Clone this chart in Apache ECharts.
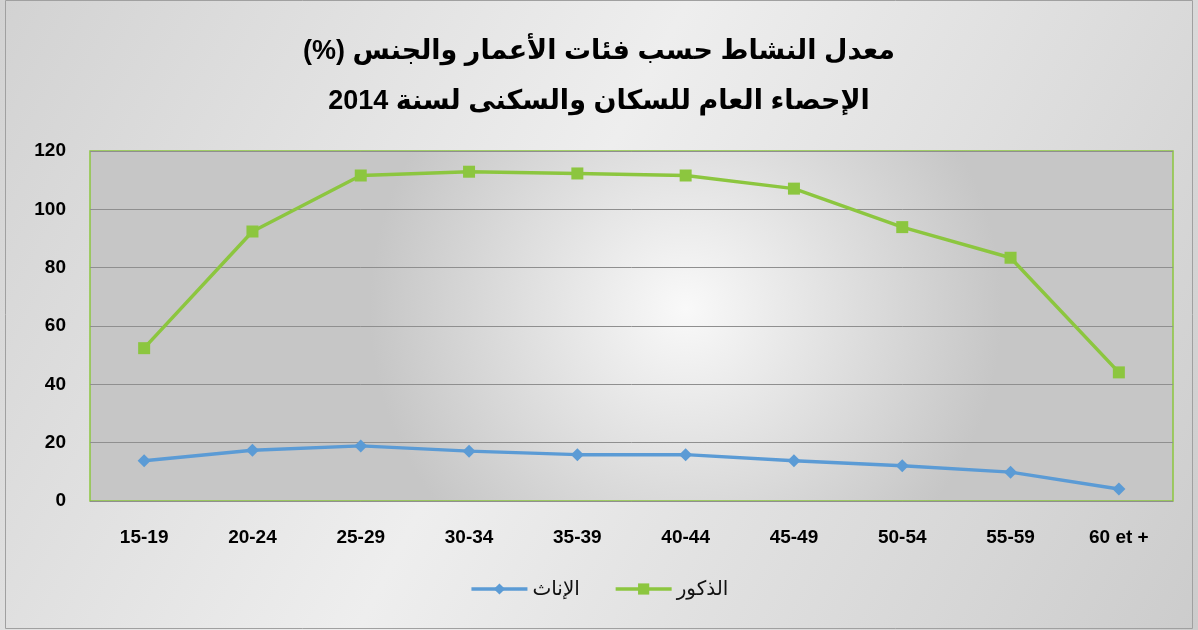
<!DOCTYPE html>
<html>
<head>
<meta charset="utf-8">
<script src="https://cdn.jsdelivr.net/npm/echarts@6/dist/echarts.min.js"></script>
<style>
  html, body { margin: 0; padding: 0; }
  #chart { width: 1198px; height: 630px; }
</style>
</head>
<body>
<div id="chart"></div>
<script>
// tranches d'âge
var categories = ["15-19", "20-24", "25-29", "30-34", "35-39", "40-44", "45-49", "50-54", "55-59", "60 et +"];
var females = [13.8, 17.4, 18.9, 17.1, 15.9, 15.9, 13.8, 12.1, 9.9, 4.1];
var males = [52.4, 92.4, 111.6, 112.9, 112.3, 111.6, 107.1, 93.9, 83.4, 44.1];
var yTicks = [0, 20, 40, 60, 80, 100, 120];

var font = "'Liberation Sans', 'DejaVu Sans', Arial, sans-serif";

var chart = echarts.init(document.getElementById("chart"));

var option = {
  backgroundColor: {
    type: "linear", x: 0, y: 0, x2: 1, y2: 1,
    colorStops: [
      { offset: 0, color: "#d2d2d2" },
      { offset: 0.45, color: "#eeeeee" },
      { offset: 1, color: "#cccccc" }
    ]
  },
  textStyle: { fontFamily: font },
  title: {
    // \u200F keeps "(%)" at the end of the right-to-left line
    text: "معدل النشاط حسب فئات الأعمار والجنس (%)\u200F\nالإحصاء العام للسكان والسكنى لسنة 2014",
    left: "center",
    top: 22,
    textStyle: {
      fontFamily: font,
      fontSize: 27,
      fontWeight: "bold",
      color: "#000",
      lineHeight: 50
    }
  },
  legend: {
    data: ["الإناث", "الذكور"],
    bottom: 26,
    left: "center",
    itemWidth: 56,
    itemHeight: 14,
    itemGap: 34,
    lineStyle: { width: 3.5 },
    textStyle: { fontFamily: font, fontSize: 20, color: "#111" }
  },
  grid: {
    left: 90,
    right: 25,
    top: 151,
    bottom: 129,
    show: true,
    borderColor: "#8cc63f",
    borderWidth: 1.5,
    backgroundColor: {
      type: "radial", x: 0.55, y: 0.45, r: 0.9,
      colorStops: [
        { offset: 0, color: "#f9f9f9" },
        { offset: 1, color: "#c6c6c6" }
      ]
    }
  },
  xAxis: {
    type: "category",
    data: categories,
    boundaryGap: true,
    axisLine: { show: false },
    axisTick: { show: false },
    axisLabel: {
      margin: 27,
      fontFamily: font,
      fontSize: 19,
      fontWeight: "bold",
      color: "#000"
    }
  },
  yAxis: {
    type: "value",
    min: yTicks[0],
    max: yTicks[yTicks.length - 1],
    interval: 20,
    axisLine: { show: false },
    axisTick: { show: false },
    axisLabel: {
      margin: 24,
      fontFamily: font,
      fontSize: 19,
      fontWeight: "bold",
      color: "#000"
    },
    splitLine: { lineStyle: { color: "#8f8f8f", width: 1 } }
  },
  series: [
    {
      name: "الإناث",
      type: "line",
      data: females,
      symbol: "diamond",
      symbolSize: 13,
      lineStyle: { color: "#5b9bd5", width: 3.5 },
      itemStyle: { color: "#5b9bd5" }
    },
    {
      name: "الذكور",
      type: "line",
      data: males,
      symbol: "rect",
      symbolSize: 12,
      lineStyle: { color: "#8cc63f", width: 3.5 },
      itemStyle: { color: "#8cc63f" }
    }
  ],
  graphic: [
    {
      type: "rect",
      shape: { x: 5.5, y: 0.5, width: 1187, height: 628 },
      style: { fill: "none", stroke: "#a0a0a0", lineWidth: 1 },
      silent: true
    }
  ]
};

chart.setOption(option);
</script>
</body>
</html>
